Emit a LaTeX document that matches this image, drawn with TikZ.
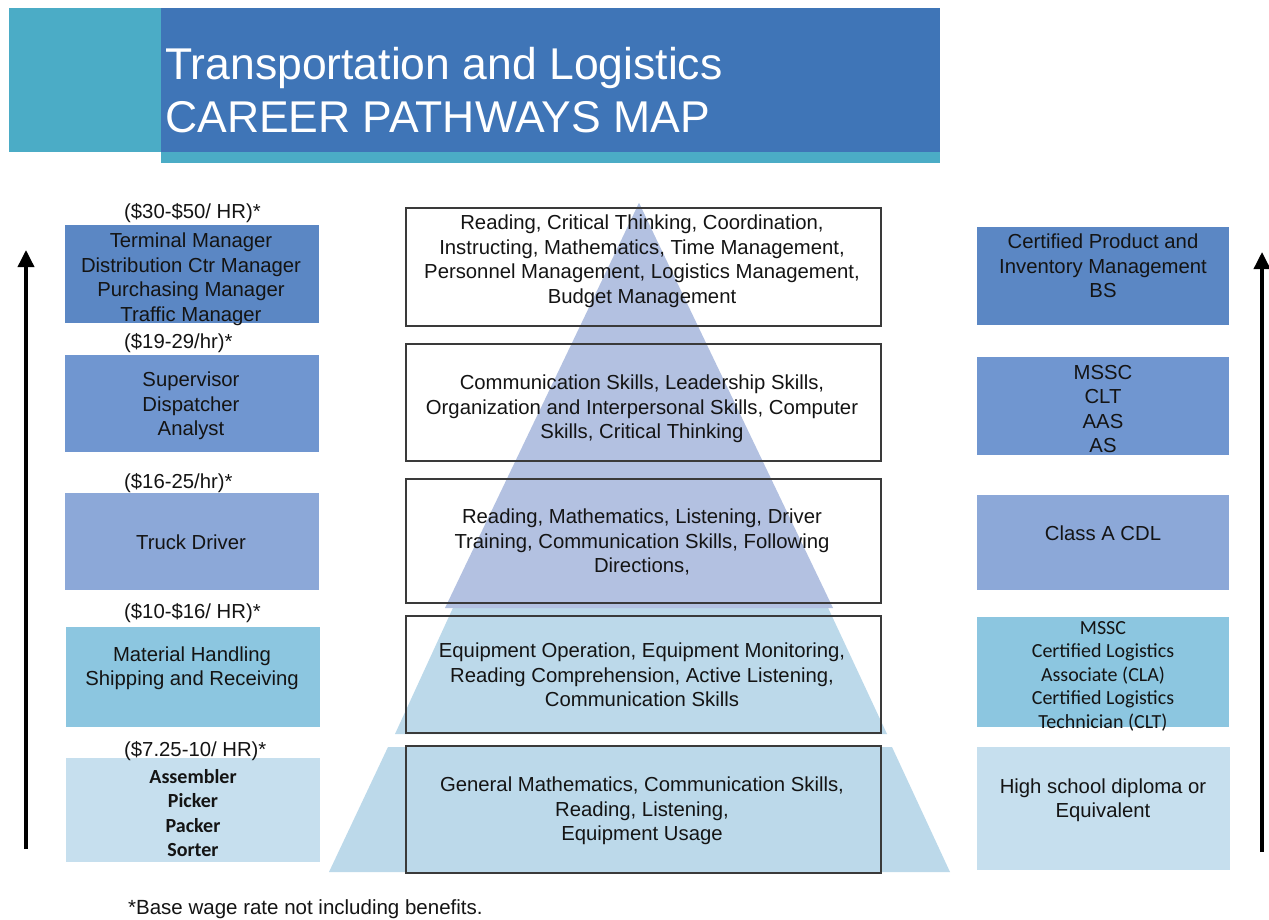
\documentclass[tikz,border=0pt]{standalone}
\usepackage{fontspec}
\setmainfont{Liberation Sans}
\newfontfamily\carl{Carlito}
\usetikzlibrary{arrows.meta}
\definecolor{hdrlight}{HTML}{4BACC6}
\definecolor{hdrdark}{HTML}{3F75B7}
\definecolor{lvA}{HTML}{5B87C4}
\definecolor{lvB}{HTML}{7096D0}
\definecolor{lvC}{HTML}{8CA8D8}
\definecolor{lvD}{HTML}{8CC6E0}
\definecolor{lvE}{HTML}{C6DFEE}
\definecolor{pyrtop}{HTML}{B3C1E1}
\definecolor{pyrlow}{HTML}{BCD9EA}
\definecolor{txt}{HTML}{141414}
\definecolor{boxline}{HTML}{3A3A3A}
\begin{document}
\begin{tikzpicture}[x=1pt,y=-1pt,
  sidebox/.style={draw=none, inner sep=0pt, anchor=north west},
  skillbox/.style={draw=boxline, line width=1.6pt, fill=none, inner sep=0pt, anchor=north west, minimum width=475pt},
  lbl/.style={text=txt, align=center, inner sep=0pt, font=\fontsize{20.3}{24.5}\selectfont},
  lblc/.style={text=txt, align=center, inner sep=0pt, font=\carl\fontsize{20}{23.5}\selectfont},
  wage/.style={text=txt, inner sep=0pt, anchor=west, font=\fontsize{20.3}{24}\selectfont},
  ttl/.style={text=white, inner sep=0pt, anchor=base west, font=\fontsize{44.5}{50}\selectfont},
  arr/.style={line width=3.6pt, black, -{Triangle[length=17pt,width=16pt]}}
]
\useasboundingbox (0,0) rectangle (1269,919);
\fill[white] (0,0) rectangle (1269,919);

% header
\fill[hdrlight] (9,8) rectangle (161,152);
\fill[hdrdark] (161,8) rectangle (940,152);
\fill[hdrlight] (161,152) rectangle (940,163);
\node[ttl] (t1) at (165,79) {Transportation and Logistics};
\node[ttl] (t2) at (165,132) {CAREER PATHWAYS MAP};

% pyramid
\fill[pyrlow] (639,203) -- (887,734) -- (395,734) -- cycle;
\fill[pyrtop] (639,203) -- (833,608) -- (445,608) -- cycle;
\fill[pyrlow] (388,747) -- (892,747) -- (950,872) -- (329,872) -- cycle;

% left boxes
\node[sidebox, fill=lvA, minimum width=254pt, minimum height=98pt] (L1) at (65,225) {};
\node[sidebox, fill=lvB, minimum width=254pt, minimum height=97pt] (L2) at (65,355) {};
\node[sidebox, fill=lvC, minimum width=254pt, minimum height=97pt] (L3) at (65,493) {};
\node[sidebox, fill=lvD, minimum width=254pt, minimum height=100pt] (L4) at (66,627) {};
\node[sidebox, fill=lvE, minimum width=254pt, minimum height=104pt] (L5) at (66,758) {};

\node[wage] (W1) at (124,213) {(\$30-\$50/ HR)*};
\node[wage] (W2) at (124,343) {(\$19-29/hr)*};
\node[wage] (W3) at (124,483) {(\$16-25/hr)*};
\node[wage] (W4) at (124,613) {(\$10-\$16/ HR)*};
\node[wage] (W5) at (124,751) {(\$7.25-10/ HR)*};

\node[lbl] (LT1) at (191,279) {Terminal Manager\\Distribution Ctr Manager\\Purchasing Manager\\Traffic Manager};
\node[lbl] (LT2) at (191,406) {Supervisor\\Dispatcher\\Analyst};
\node[lbl] (LT3) at (191,542) {Truck Driver};
\node[lbl] (LT4) at (192,668) {Material Handling\\Shipping and Receiving};
\node[lblc, font=\carl\bfseries\fontsize{20}{24.5}\selectfont] (LT5) at (193,813) {Assembler\\Picker\\Packer\\Sorter};

% center skill boxes
\node[skillbox, minimum height=118pt] (C1) at (405,207) {};
\node[skillbox, minimum height=117pt] (C2) at (405,343) {};
\node[skillbox, minimum height=124pt] (C3) at (405,478) {};
\node[skillbox, minimum height=117pt] (C4) at (405,615) {};
\node[skillbox, minimum height=127pt] (C5) at (405,745) {};

\node[lbl] (CT1) at (642,261) {Reading, Critical Thinking, Coordination,\\Instructing, Mathematics, Time Management,\\Personnel Management, Logistics Management,\\Budget Management};
\node[lbl] (CT2) at (642,409) {Communication Skills, Leadership Skills,\\Organization and Interpersonal Skills, Computer\\Skills, Critical Thinking};
\node[lbl] (CT3) at (642,542) {Reading, Mathematics, Listening, Driver\\Training, Communication Skills, Following\\Directions,};
\node[lbl] (CT4) at (642,675) {Equipment Operation, Equipment Monitoring,\\Reading Comprehension, Active Listening,\\Communication Skills};
\node[lbl] (CT5) at (642,811) {General Mathematics, Communication Skills,\\Reading, Listening,\\Equipment Usage};

% right boxes
\node[sidebox, fill=lvA, minimum width=252pt, minimum height=98pt] (R1) at (977,227) {};
\node[sidebox, fill=lvB, minimum width=252pt, minimum height=98pt] (R2) at (977,357) {};
\node[sidebox, fill=lvC, minimum width=252pt, minimum height=95pt] (R3) at (977,495) {};
\node[sidebox, fill=lvD, minimum width=252pt, minimum height=110pt] (R4) at (977,617) {};
\node[sidebox, fill=lvE, minimum width=253pt, minimum height=123pt] (R5) at (977,747) {};

\node[lbl] (RT1) at (1103,266) {Certified Product and\\Inventory Management\\BS};
\node[lbl] (RT2) at (1103,409) {MSSC\\CLT\\AAS\\AS};
\node[lbl] (RT3) at (1103,533) {Class A CDL};
\node[lblc] (RT4) at (1103,676) {MSSC\\Certified Logistics\\Associate (CLA)\\Certified Logistics\\Technician (CLT)};
\node[lbl] (RT5) at (1103,800) {High school diploma or\\Equivalent};

% arrows
\coordinate (LA0) at (26,849);
\coordinate (LA1) at (26,250);
\coordinate (RA0) at (1262,852);
\coordinate (RA1) at (1262,252);
\draw[arr] (LA0) -- (LA1);
\draw[arr] (RA0) -- (RA1);

% footnote
\node[text=txt, inner sep=0pt, anchor=base west, font=\fontsize{20.5}{24}\selectfont] (FN) at (128,914) {*Base wage rate not including benefits.};
\end{tikzpicture}
\end{document}
